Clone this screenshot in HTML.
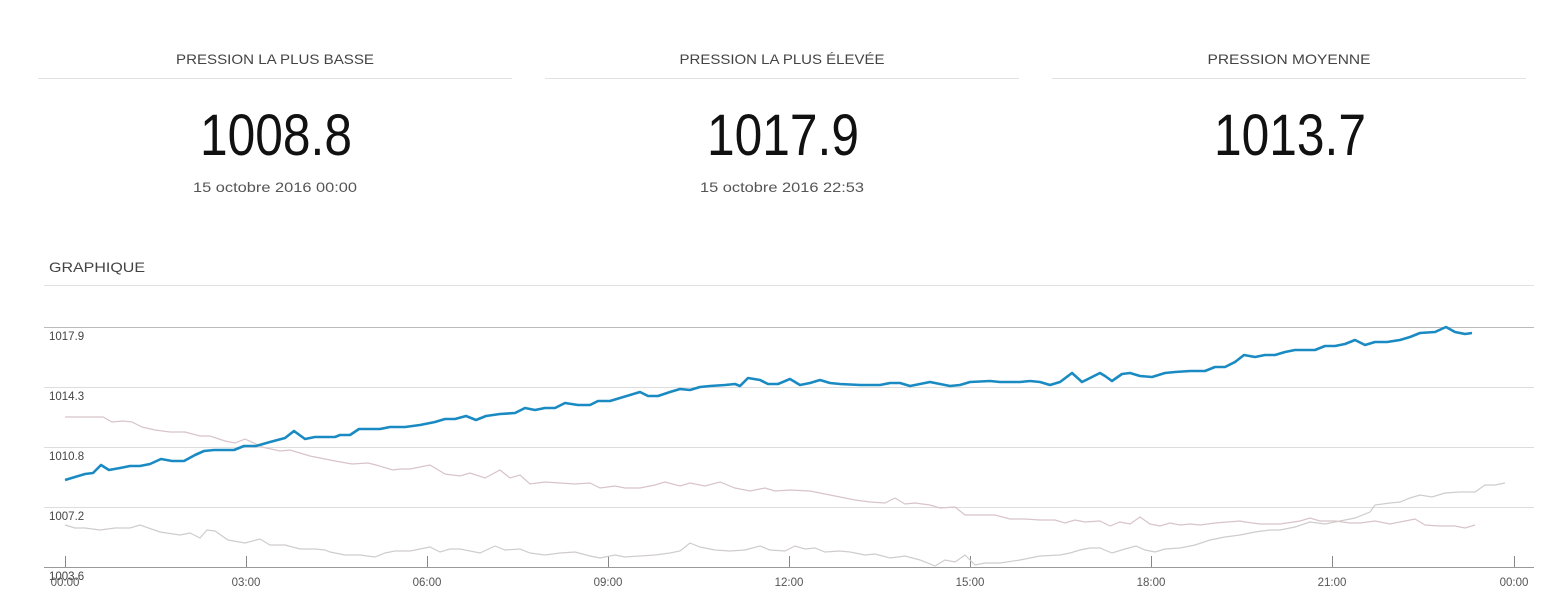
<!DOCTYPE html>
<html><head><meta charset="utf-8"><style>
html,body{margin:0;padding:0;background:#fff;}
svg{display:block;font-family:"Liberation Sans","DejaVu Sans",sans-serif;}
</style></head><body>
<svg width="1562" height="610" viewBox="0 0 1562 610" xmlns="http://www.w3.org/2000/svg">
<g fill="#444" font-size="14">
<text x="275" y="64" text-anchor="middle" textLength="198" lengthAdjust="spacingAndGlyphs">PRESSION LA PLUS BASSE</text>
<text x="782" y="64" text-anchor="middle" textLength="205" lengthAdjust="spacingAndGlyphs">PRESSION LA PLUS ÉLEVÉE</text>
<text x="1289" y="64" text-anchor="middle" textLength="163" lengthAdjust="spacingAndGlyphs">PRESSION MOYENNE</text>
</g>
<g stroke="#e2e2e2" stroke-width="1">
<line x1="38" y1="78.5" x2="512" y2="78.5"/><line x1="545" y1="78.5" x2="1019" y2="78.5"/><line x1="1052" y1="78.5" x2="1526" y2="78.5"/>
</g>
<g fill="#111" font-size="58">
<text x="276" y="155" text-anchor="middle" textLength="152" lengthAdjust="spacingAndGlyphs">1008.8</text>
<text x="783" y="155" text-anchor="middle" textLength="152" lengthAdjust="spacingAndGlyphs">1017.9</text>
<text x="1290" y="155" text-anchor="middle" textLength="152" lengthAdjust="spacingAndGlyphs">1013.7</text>
</g>
<g fill="#555" font-size="14">
<text x="275" y="192" text-anchor="middle" textLength="164" lengthAdjust="spacingAndGlyphs">15 octobre 2016 00:00</text>
<text x="782" y="192" text-anchor="middle" textLength="164" lengthAdjust="spacingAndGlyphs">15 octobre 2016 22:53</text>
</g>
<text x="49" y="272" fill="#444" font-size="14" textLength="96" lengthAdjust="spacingAndGlyphs">GRAPHIQUE</text>
<line x1="44" y1="285.5" x2="1534" y2="285.5" stroke="#e2e2e2"/>
<g stroke="#ddd"><line x1="44" y1="387.5" x2="1534" y2="387.5"/><line x1="44" y1="447.5" x2="1534" y2="447.5"/><line x1="44" y1="507.5" x2="1534" y2="507.5"/></g>
<line x1="44" y1="327.5" x2="1534" y2="327.5" stroke="#bbb"/>
<line x1="44" y1="567.5" x2="1534" y2="567.5" stroke="#999"/>
<g stroke="#888"><line x1="65.5" y1="556" x2="65.5" y2="567"/><line x1="246.5" y1="556" x2="246.5" y2="567"/><line x1="427.5" y1="556" x2="427.5" y2="567"/><line x1="608.5" y1="556" x2="608.5" y2="567"/><line x1="789.5" y1="556" x2="789.5" y2="567"/><line x1="970.5" y1="556" x2="970.5" y2="567"/><line x1="1151.5" y1="556" x2="1151.5" y2="567"/><line x1="1332.5" y1="556" x2="1332.5" y2="567"/><line x1="1514.5" y1="556" x2="1514.5" y2="567"/></g>
<g fill="#444" font-size="11.5">
<text x="49" y="340">1017.9</text><text x="49" y="400">1014.3</text><text x="49" y="460">1010.8</text><text x="49" y="520">1007.2</text><text x="49" y="580">1003.6</text>
</g>
<g fill="#555" font-size="11.5" text-anchor="middle">
<text x="65" y="586">00:00</text><text x="246" y="586">03:00</text><text x="427" y="586">06:00</text><text x="608" y="586">09:00</text><text x="789" y="586">12:00</text><text x="970" y="586">15:00</text><text x="1151" y="586">18:00</text><text x="1332" y="586">21:00</text><text x="1514" y="586">00:00</text>
</g>
<polyline fill="none" stroke="#d8c4c8" stroke-width="1.2" points="65,417 103,417 112,422 123,421 132,422 142,427 155,430 170,432 185,432 200,436 210,436 225,441 235,443 245,439 256,444 262,447 280,451 290,450 300,453 310,456 320,458 335,461 352,464 368,463 376,465 393,470 400,469 410,469 430,465 445,474 460,476 470,473 485,478 500,470 510,478 520,475 530,484 545,482 560,483 575,484 590,483 600,488 615,486 625,488 640,488 655,485 665,482 680,486 690,483 705,486 720,482 735,488 750,491 765,488 775,491 790,490 810,491 820,493 840,497 855,500 870,502 885,503 895,498 905,504 915,503 930,505 940,508 955,507 965,515 975,515 995,515 1010,519 1025,519 1040,520 1055,520 1065,523 1075,520 1085,522 1100,521 1110,526 1120,522 1130,524 1140,517 1150,524 1160,526 1170,523 1180,525 1190,524 1200,525 1215,523 1240,521 1245,522 1260,524 1280,524 1300,521 1310,518 1320,521 1335,521 1350,523 1360,523 1375,521 1390,524 1405,521 1415,519 1425,525 1440,526 1455,526 1465,528 1475,525"/>
<polyline fill="none" stroke="#d0cccc" stroke-width="1.2" points="65,525 75,528 85,528 100,530 115,528 130,528 140,525 160,532 180,535 190,533 200,538 207,530 215,531 228,540 245,543 260,539 270,545 285,545 300,549 315,549 325,550 330,552 345,555 360,555 375,557 385,553 395,551 410,551 430,547 440,552 450,549 460,549 480,553 495,546 505,550 520,549 530,553 545,555 560,553 575,552 590,556 600,558 615,555 625,557 640,556 655,555 670,553 680,551 690,543 700,547 715,550 730,551 745,550 760,546 770,550 785,551 795,546 805,549 815,548 825,552 840,551 850,552 865,555 875,554 890,558 905,556 920,560 935,566 945,560 955,562 965,555 975,565 985,563 1000,563 1020,560 1040,556 1060,555 1070,553 1080,550 1090,548 1100,548 1112,553 1125,549 1136,546 1145,550 1155,552 1165,549 1180,548 1195,545 1210,540 1225,537 1240,535 1255,532 1270,530 1280,530 1295,527 1310,522 1325,524 1340,521 1355,518 1370,512 1375,505 1390,503 1400,502 1410,498 1420,495 1432,497 1445,493 1460,492 1475,492 1485,485 1495,485 1505,483"/>
<polyline fill="none" stroke="#1a8ac2" stroke-width="2.6" stroke-linejoin="round" points="65,480 75,477 85,474 93,473 101,465 109,470 120,468 130,466 140,466 150,464 161,459 172,461 184,461 195,455 204,451 214,450 234,450 244,446 256,446 270,442 285,438 294,431 305,439 315,437 335,437 340,435 350,435 359,429 380,429 390,427 405,427 420,425 435,422 445,419 455,419 466,416 476,420 486,416 500,414 515,413 525,408 535,410 545,408 555,408 565,403 578,405 590,405 598,401 610,401 630,395 640,392 648,396 658,396 670,392 680,389 690,390 700,387 710,386 725,385 735,384 740,386 748,378 760,380 768,384 778,384 790,379 800,385 810,383 820,380 830,383 840,384 860,385 880,385 890,383 900,383 910,386 930,382 940,384 950,386 960,385 970,382 990,381 1000,382 1020,382 1030,381 1040,382 1050,385 1060,382 1072,373 1082,382 1092,377 1100,373 1105,376 1112,381 1122,374 1130,373 1140,376 1152,377 1165,373 1175,372 1190,371 1205,371 1215,367 1225,367 1235,362 1244,355 1255,357 1265,355 1275,355 1285,352 1295,350 1315,350 1325,346 1335,346 1345,344 1355,340 1365,345 1375,342 1387,342 1400,340 1410,337 1420,333 1435,332 1446,327 1455,332 1465,334 1472,333"/>
</svg>
</body></html>
